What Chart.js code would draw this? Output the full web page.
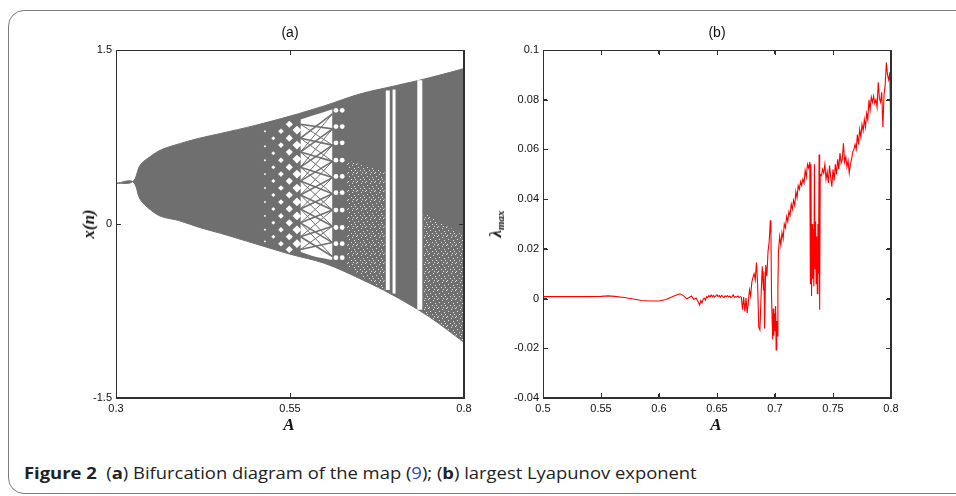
<!DOCTYPE html>
<html>
<head>
<meta charset="utf-8">
<script src="https://cdn.jsdelivr.net/npm/chart.js@4.4.1/dist/chart.umd.min.js"></script>
<style>
  body { margin: 0; width: 956px; height: 496px; background: #fff; position: relative; overflow: hidden; }
  #frame { position: absolute; left: 8px; top: 10px; width: 980px; height: 482px; border: 1.5px solid #7c7c7c; border-radius: 16px; }
  .panel { position: absolute; top: 20px; width: 440px; height: 420px; }
  .box { position: absolute; box-sizing: border-box; border: 1px solid #303030; pointer-events: none; }
  .tick { position: absolute; background: #303030; pointer-events: none; }
  .title { position: absolute; font: 14px "Liberation Sans", Arial, sans-serif; color: #111; transform: translate(-50%, -50%); }
  .axlab { position: absolute; font: italic bold 17px "Liberation Serif", "DejaVu Serif", serif; color: #111; transform: translate(-50%, -50%); white-space: nowrap; }
  .rot { transform: translate(-50%, -50%) rotate(-90deg); }
  .axlab sub { font-size: 11px; vertical-align: -3px; font-weight: bold; }
  #cap { position: absolute; left: 24px; top: 462px; font: 16px "Open Sans", sans-serif; color: #222; white-space: nowrap; transform-origin: left center; }
  #cap b { font-weight: 700; }
  #cap .ref { color: #2a47d0; }
</style>
</head>
<body>
<div id="frame"></div>
<canvas id="chartA" class="panel" style="left:40px" width="440" height="420"></canvas>
<canvas id="chartB" class="panel" style="left:470px" width="440" height="420"></canvas>
<div class="title" style="left:290px; top:32px">(a)</div>
<div class="title" style="left:717px; top:32px">(b)</div>
<div class="axlab" style="left:289px; top:425px">A</div>
<div class="axlab" style="left:716px; top:425px">A</div>
<div class="axlab rot" style="left:89px; top:224px">x(n)</div>
<div class="axlab rot" style="left:496px; top:224px">λ<sub>max</sub></div>
<div id="cap"><b>Figure 2</b>&nbsp; (<b>a</b>) Bifurcation diagram of the map (<span class="ref">9</span>); (<b>b</b>) largest Lyapunov exponent</div>
<script>
// ---- (a) bifurcation diagram ----
// outer envelope of x(n) against A
const envA     = [0.30, 0.324, 0.335, 0.35, 0.365, 0.39, 0.42, 0.45, 0.50, 0.55, 0.60, 0.65, 0.70, 0.75, 0.80];
const envUpper = [0.35, 0.365, 0.51, 0.585, 0.64, 0.69, 0.74, 0.78, 0.85, 0.93, 1.02, 1.12, 1.19, 1.26, 1.34];
const envLower = [0.35, 0.365, 0.21, 0.12, 0.065, 0.03, -0.03, -0.08, -0.17, -0.26, -0.34, -0.47, -0.62, -0.80, -1.02];

// white holes of the torus lattice, one column per A
const latticeA = [0.514, 0.526, 0.537, 0.549, 0.560];
const latticeX = [
  [0.80, 0.67, 0.55, 0.43, 0.31, 0.19, 0.07, -0.05, -0.15],
  [0.74, 0.61, 0.49, 0.37, 0.25, 0.13, 0.01, -0.11],
  [0.80, 0.68, 0.55, 0.43, 0.31, 0.19, 0.07, -0.05, -0.17],
  [0.86, 0.74, 0.62, 0.49, 0.37, 0.25, 0.13, 0.01, -0.11, -0.22],
  [0.81, 0.68, 0.56, 0.43, 0.31, 0.19, 0.07, -0.05, -0.17]
];

// open lens band between the lattice and the loop chain
const lensA      = [0.565, 0.585, 0.611];
const lensTop    = [0.90, 0.94, 0.99];
const lensBottom = [-0.24, -0.28, -0.31];
const lensNodeA  = [0.565, 0.611];
const lensNodesL = [0.86, 0.74, 0.62, 0.49, 0.37, 0.25, 0.13, 0.01, -0.11, -0.22];
const lensNodesR = [0.95, 0.82, 0.68, 0.54, 0.40, 0.26, 0.12, -0.02, -0.16, -0.28];

// chain of small loops before chaos sets in
const loopA = [0.616, 0.625];
const loopX = [0.98, 0.84, 0.70, 0.55, 0.41, 0.27, 0.12, -0.03, -0.17, -0.29];

// periodic windows inside the chaotic band
const windowA      = [0.6905, 0.6995, 0.7365];
const windowTop    = [1.15, 1.16, 1.24];
const windowBottom = [-0.57, -0.60, -0.74];

// sparse, speckled parts of the chaotic band
const speckleA = [
  [0.632, 0.660, 0.686],
  [0.742, 0.770, 0.800]
];
const speckleTop = [
  [0.55, 0.50, 0.45],
  [0.10, 0.00, -0.10]
];
const speckleBottom = [
  [-0.36, -0.48, -0.58],
  [-0.76, -0.88, -1.02]
];

const aTicksX = [0.3, 0.55, 0.8];
const aTicksY = [-1.5, 0, 1.5];
const aTickLabelsX = ['0.3', '0.55', '0.8'];
const aTickLabelsY = ['-1.5', '0', '1.5'];

// ---- (b) largest Lyapunov exponent ----
const lyapA = [
  0.500, 0.520, 0.540, 0.550, 0.556, 0.562, 0.570, 0.578, 0.585, 0.592,
  0.600, 0.606, 0.611, 0.615, 0.618, 0.621, 0.624, 0.626, 0.628, 0.630,
  0.632, 0.634, 0.635, 0.636, 0.637, 0.638, 0.639, 0.640, 0.641, 0.642,
  0.643, 0.644, 0.645, 0.646, 0.647, 0.648, 0.649, 0.650, 0.651, 0.652,
  0.653, 0.654, 0.655, 0.656, 0.657, 0.658, 0.659, 0.660, 0.661, 0.662,
  0.663, 0.664, 0.665, 0.666, 0.667, 0.668, 0.669, 0.670,
  0.671, 0.672, 0.673, 0.674, 0.675, 0.676, 0.677, 0.678, 0.679, 0.680,
  0.681, 0.682, 0.683, 0.684, 0.685, 0.686, 0.687, 0.688, 0.689, 0.690,
  0.6905, 0.691, 0.692, 0.693, 0.694, 0.695, 0.696, 0.6965, 0.697, 0.6975,
  0.698, 0.6985, 0.699, 0.6995, 0.700, 0.7005, 0.701, 0.7015, 0.702, 0.7025,
  0.703, 0.704, 0.705, 0.706, 0.707, 0.708, 0.709, 0.710, 0.711, 0.712,
  0.713, 0.714, 0.715, 0.716, 0.717, 0.718, 0.719, 0.720, 0.721, 0.722,
  0.723, 0.724, 0.725, 0.726, 0.727, 0.728, 0.729, 0.730, 0.7305, 0.731,
  0.7315, 0.732, 0.7325, 0.733, 0.7335, 0.734, 0.7345, 0.735, 0.7355, 0.736,
  0.7365, 0.737, 0.7375, 0.738, 0.7385, 0.739, 0.740, 0.741, 0.742, 0.743,
  0.744, 0.745, 0.746, 0.747, 0.748, 0.749, 0.750, 0.751, 0.752, 0.753,
  0.754, 0.755, 0.756, 0.757, 0.758, 0.759, 0.760, 0.761, 0.762, 0.763,
  0.764, 0.765, 0.766, 0.767, 0.768, 0.769, 0.770, 0.771, 0.772, 0.773,
  0.774, 0.775, 0.776, 0.777, 0.778, 0.779, 0.780, 0.781, 0.782, 0.783,
  0.784, 0.785, 0.786, 0.787, 0.788, 0.789, 0.790, 0.791, 0.792, 0.793,
  0.794, 0.795, 0.796, 0.797, 0.798, 0.799, 0.800
];
const lyapVal = [
  0.0008, 0.0008, 0.0008, 0.0009, 0.0011, 0.0009, 0.0004, -0.0002, -0.0008, -0.0010,
  -0.0010, -0.0004, 0.0006, 0.0014, 0.0019, 0.0012, -0.0001, 0.0004, 0.0010, -0.0004,
  0.0002, -0.0016, -0.0026, -0.0008, -0.0018, -0.0003, 0.0002, -0.0006, 0.0008, 0.0004,
  0.0012, 0.0006, 0.0014, 0.0007, 0.0013, 0.0006, 0.0011, 0.0015, 0.0008, 0.0012,
  0.0005, 0.0013, 0.0009, 0.0004, 0.0011, 0.0007, 0.0012, 0.0006, 0.0010, 0.0004,
  0.0009, 0.0015, 0.0005, 0.0008, 0.0006, 0.0010, 0.0004, 0.0008,
  0.0005, -0.0045, 0.0006, -0.0052, 0.0002, -0.0058, -0.0015, 0.0035, 0.0010, 0.0065,
  0.0085, 0.0100, 0.0075, 0.0145, 0.0060, -0.0115, -0.0126, 0.0012, 0.0130, 0.0035,
  0.0110, -0.0120, 0.0135, 0.0090, 0.0190, 0.0230, 0.0315, 0.0260, 0.0010, -0.0080,
  -0.0165, -0.0040, -0.0150, -0.0060, -0.0130, -0.0030, -0.0207, -0.0090, -0.0150, 0.0050,
  0.0190, 0.0250, 0.0215, 0.0265, 0.0240, 0.0300, 0.0285, 0.0330, 0.0310, 0.0350,
  0.0335, 0.0380, 0.0360, 0.0395, 0.0375, 0.0430, 0.0405, 0.0455, 0.0440, 0.0470,
  0.0455, 0.0480, 0.0465, 0.0515, 0.0490, 0.0540, 0.0525, 0.0550, 0.0060, 0.0540,
  0.0010, 0.0300, 0.0080, 0.0280, 0.0050, 0.0540, 0.0120, 0.0310, 0.0060, 0.0250,
  0.0020, 0.0300, 0.0100, 0.0580, -0.0045, 0.0500, 0.0495, 0.0520, 0.0505, 0.0540,
  0.0480, 0.0510, 0.0465, 0.0535, 0.0490, 0.0450, 0.0520, 0.0475, 0.0540, 0.0500,
  0.0560, 0.0520, 0.0585, 0.0545, 0.0560, 0.0625, 0.0550, 0.0570, 0.0530, 0.0555,
  0.0505, 0.0540, 0.0560, 0.0590, 0.0600, 0.0620, 0.0600, 0.0660, 0.0620, 0.0680,
  0.0650, 0.0700, 0.0675, 0.0720, 0.0690, 0.0745, 0.0720, 0.0800, 0.0760, 0.0810,
  0.0790, 0.0815, 0.0785, 0.0800, 0.0770, 0.0870, 0.0805, 0.0790, 0.0830, 0.0690,
  0.0820, 0.0860, 0.0950, 0.0900, 0.0880, 0.0910, 0.0600
];

const bTicksX = [0.5, 0.55, 0.6, 0.65, 0.7, 0.75, 0.8];
const bTicksY = [-0.04, -0.02, 0, 0.02, 0.04, 0.06, 0.08, 0.1];
const bTickLabelsX = ['0.5', '0.55', '0.6', '0.65', '0.7', '0.75', '0.8'];
const bTickLabelsY = ['-0.04', '-0.02', '0', '0.02', '0.04', '0.06', '0.08', '0.1'];

const GRAY = '#6f6f6f';
const AXIS = '#303030';
const TICK_FONT = { family: '"Liberation Sans", Arial, sans-serif', size: 11 };
const CAPTION_WIDTH = 673;

const pts = (xs, ys) => xs.map((x, i) => ({ x, y: ys[i] }));

// white dots on a transparent tile, laid over gray for the speckled areas
function specklePattern() {
  const c = document.createElement('canvas');
  c.width = 9; c.height = 9;
  const g = c.getContext('2d');
  g.fillStyle = 'rgba(255,255,255,0.8)';
  [[1, 0], [6, 1], [3, 3], [8, 4], [0, 6], [5, 6], [2, 8], [7, 8]].forEach(([x, y]) => g.fillRect(x, y, 1, 1));
  return g.createPattern(c, 'repeat');
}

// MATLAB style box: four axes, ticks pointing into the plot
const inwardGrid = { display: true, drawOnChartArea: false, drawTicks: true, tickLength: -4, color: AXIS, lineWidth: 1 };
const axisBorder = { display: true, color: AXIS, width: 1 };

function axes(xMin, xMax, yMin, yMax, tx, ty, lx, ly, yWidth) {
  const setX = s => { s.ticks = tx.map(v => ({ value: v })); };
  const setY = s => { s.ticks = ty.map(v => ({ value: v })); };
  return {
    x: {
      type: 'linear', position: 'bottom', min: xMin, max: xMax,
      grid: inwardGrid, border: axisBorder, afterBuildTicks: setX,
      afterFit: s => { s.height = 42; },
      ticks: { callback: (v, i) => lx[i], font: TICK_FONT, color: '#111', padding: 8, maxRotation: 0, autoSkip: false }
    },
    x2: {
      type: 'linear', position: 'top', display: true, min: xMin, max: xMax,
      grid: inwardGrid, border: axisBorder, afterBuildTicks: setX,
      afterFit: s => { s.height = 0; },
      ticks: { display: false }
    },
    y: {
      type: 'linear', position: 'left', min: yMin, max: yMax,
      grid: inwardGrid, border: axisBorder, afterBuildTicks: setY,
      afterFit: s => { s.width = yWidth; },
      ticks: { callback: (v, i) => ly[i], font: TICK_FONT, color: '#111', padding: 8, autoSkip: false }
    },
    y2: {
      type: 'linear', position: 'right', display: true, min: yMin, max: yMax,
      grid: inwardGrid, border: axisBorder, afterBuildTicks: setY,
      afterFit: s => { s.width = 0; },
      ticks: { display: false }
    }
  };
}

// the same box again as page elements placed from the chart's own scales
function boxOverlay(chart, canvasId) {
  const cv = document.getElementById(canvasId);
  const ox = cv.offsetLeft, oy = cv.offsetTop;
  const a = chart.chartArea;
  const xs = chart.scales.x, ys = chart.scales.y;
  const L = Math.round(ox + a.left), T = Math.round(oy + a.top);
  const W = Math.round(a.right - a.left), H = Math.round(a.bottom - a.top);
  const add = (cls, l, t, w, h) => {
    const d = document.createElement('div');
    d.className = cls;
    Object.assign(d.style, { left: l + 'px', top: t + 'px', width: w + 'px', height: h + 'px' });
    document.body.appendChild(d);
  };
  add('box', L, T, W, H);
  xs.ticks.forEach(t => {
    const px = Math.min(L + W - 1, Math.round(ox + xs.getPixelForValue(t.value)));
    add('tick', px, T + H - 5, 1, 4);
    add('tick', px, T + 1, 1, 4);
  });
  ys.ticks.forEach(t => {
    const py = Math.min(T + H - 1, Math.round(oy + ys.getPixelForValue(t.value)));
    add('tick', L + 1, py, 4, 1);
    add('tick', L + W - 5, py, 4, 1);
  });
}

const common = {
  responsive: false,
  animation: false,
  plugins: { legend: { display: false }, tooltip: { enabled: false } }
};

// ---- build panel (a) datasets ----
const dsA = [];
dsA.push({
  label: 'upper', data: pts(envA, envUpper), showLine: true, order: 20,
  borderColor: GRAY, borderWidth: 1, pointRadius: 0, tension: 0.35,
  backgroundColor: GRAY, fill: '+1'
});
dsA.push({
  label: 'lower', data: pts(envA, envLower), showLine: true, order: 21,
  borderColor: GRAY, borderWidth: 1, pointRadius: 0, tension: 0.35
});
dsA.push({
  label: 'lensTop', data: pts(lensA, lensTop), showLine: true, order: 15,
  borderWidth: 0, pointRadius: 0, tension: 0.3, backgroundColor: '#ffffff', fill: '+1'
});
dsA.push({
  label: 'lensBottom', data: pts(lensA, lensBottom), showLine: true, order: 16,
  borderWidth: 0, pointRadius: 0, tension: 0.3
});
const speckle = specklePattern();
speckleA.forEach((as, z) => {
  dsA.push({
    data: pts(as, speckleTop[z]), showLine: true, order: 14,
    borderWidth: 0, pointRadius: 0, tension: 0.3, backgroundColor: speckle, fill: '+1'
  });
  dsA.push({
    data: pts(as, speckleBottom[z]), showLine: true, order: 14,
    borderWidth: 0, pointRadius: 0, tension: 0.3
  });
});
// crossing strands of the lens band: neighbours and next-but-one neighbours
[[1, 1.6], [2, 1]].forEach(([step, w]) => {
  for (let k = 0; k + step < lensNodesL.length; k++) {
    dsA.push({
      data: [{ x: lensNodeA[0], y: lensNodesL[k] }, { x: lensNodeA[1], y: lensNodesR[k + step] }],
      showLine: true, order: 10, borderColor: GRAY, borderWidth: w, pointRadius: 0
    });
    dsA.push({
      data: [{ x: lensNodeA[0], y: lensNodesL[k + step] }, { x: lensNodeA[1], y: lensNodesR[k] }],
      showLine: true, order: 10, borderColor: GRAY, borderWidth: w, pointRadius: 0
    });
  }
});
const holeSize = [1.2, 2.0, 2.8, 3.6, 4.4];
latticeA.forEach((a, c) => {
  dsA.push({
    data: latticeX[c].map(v => ({ x: a, y: v })), order: 5,
    pointStyle: 'rectRot', pointRadius: holeSize[c], borderWidth: 0,
    backgroundColor: '#ffffff'
  });
});
loopA.forEach(a => {
  dsA.push({
    data: loopX.map(v => ({ x: a, y: v })), order: 5,
    pointStyle: 'circle', pointRadius: 2.4, borderWidth: 0, backgroundColor: '#ffffff'
  });
});
const windowWidth = [4, 3, 5];
windowA.forEach((a, i) => {
  dsA.push({
    data: [{ x: a, y: windowTop[i] }, { x: a, y: windowBottom[i] }],
    showLine: true, order: 1, borderColor: '#ffffff', borderWidth: windowWidth[i],
    borderCapStyle: 'butt', pointRadius: 0
  });
});

const chartA = new Chart(document.getElementById('chartA'), {
  type: 'scatter',
  data: { datasets: dsA },
  options: Object.assign({}, common, {
    layout: { padding: { top: 30, right: 16, left: 0, bottom: 0 } },
    scales: axes(0.3, 0.8, -1.5, 1.5, aTicksX, aTicksY, aTickLabelsX, aTickLabelsY, 76)
  })
});

// ---- panel (b) ----
const chartB = new Chart(document.getElementById('chartB'), {
  type: 'scatter',
  data: {
    datasets: [{
      label: 'lambda max', data: pts(lyapA, lyapVal), showLine: true,
      borderColor: '#ff0000', borderWidth: 1.1, pointRadius: 0, tension: 0
    }]
  },
  options: Object.assign({}, common, {
    layout: { padding: { top: 30, right: 19, left: 0, bottom: 0 } },
    scales: axes(0.5, 0.8, -0.04, 0.1, bTicksX, bTicksY, bTickLabelsX, bTickLabelsY, 73)
  })
});

boxOverlay(chartA, 'chartA');
boxOverlay(chartB, 'chartB');

// stretch the caption line to its printed width
const cap = document.getElementById('cap');
cap.style.transform = 'scaleX(' + (CAPTION_WIDTH / cap.offsetWidth).toFixed(3) + ')';
</script>
</body>
</html>
